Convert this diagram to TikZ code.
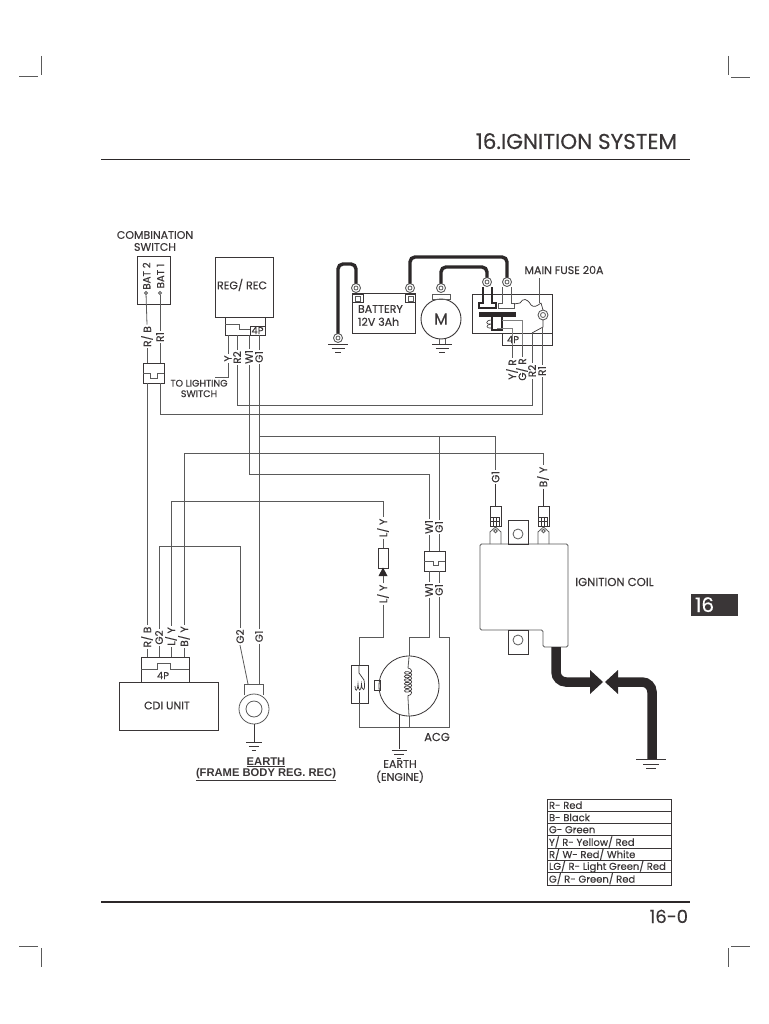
\documentclass[tikz,border=0pt]{standalone}
\usepackage{fontspec}
\setmainfont{Poppins}[FakeBold=0.3]
\usetikzlibrary{decorations.pathmorphing}
\definecolor{ink}{HTML}{3A3637}
\definecolor{wirec}{HTML}{5A5A5A}
\definecolor{heavy}{HTML}{2C2829}
\newcommand\fs[1]{\fontsize{#1}{#1}\selectfont}
\tikzset{
  txt/.style={inner sep=0pt,outer sep=0pt,text=ink,font=\fs{11},align=center},
  vl/.style={txt,rotate=90,inner sep=1.5pt,font=\fs{10.5}},
  arial/.style={inner sep=0pt,text=ink,font={\fontspec{Liberation Sans}\bfseries\fs{11.2}}},
  wire/.style={draw=wirec,line width=.8pt},
  dark/.style={draw=ink,line width=.9pt},
  boxs/.style={draw=ink,line width=.9pt,inner sep=0pt,outer sep=0pt,rectangle},
  lboxs/.style={draw=wirec,line width=.8pt,inner sep=0pt,outer sep=0pt,rectangle},
  heavywire/.style={draw=heavy,line width=3.4pt,rounded corners=5pt},
  hvcable/.style={draw=heavy,line width=9.5pt},
  lugs/.style={circle,draw=wirec,line width=.9pt,minimum size=9pt,inner sep=0pt,outer sep=0pt},
  holes/.style={circle,draw=wirec,line width=.8pt,inner sep=0pt,outer sep=0pt},
  marks/.style={draw=wirec,line width=1pt},
  coilw/.style={draw=ink,line width=.7pt,decorate,decoration={coil,aspect=.6,amplitude=3.6pt,segment length=3.6pt}}
}
\newcommand\bx[6][boxs]{\node[#1,minimum width={(#5-#3)*1pt},minimum height={(#6-#4)*1pt}] (#2) at ({(#3+#5)/2},{(#4+#6)/2}) {};}
\newcommand\gnd[3]{\draw[dark] ({#1-#3},#2) -- ({#1+#3},#2) ({#1-#3*.65},{#2+4}) -- ({#1+#3*.65},{#2+4}) ({#1-#3*.3},{#2+8}) -- ({#1+#3*.3},{#2+8});}
\newcommand\lug[3]{\node[lugs] (#1) at (#2,#3) {}; \node[holes,minimum size=4pt] at (#1) {};}
\begin{document}
\begin{tikzpicture}[x=1pt,y=-1pt]
\useasboundingbox (0,0) rectangle (768,1024);
\fill[white] (0,0) rectangle (768,1024);
% crop marks
\coordinate (tl1) at (19,77); \coordinate (tl2) at (38,77); \coordinate (tl3) at (41,56); \coordinate (tl4) at (41,75);
\draw[marks] (tl1) -- (tl2) (tl3) -- (tl4);
\coordinate (tr1) at (731,78); \coordinate (tr2) at (750,78); \coordinate (tr3) at (728,56); \coordinate (tr4) at (728,75);
\draw[marks] (tr1) -- (tr2) (tr3) -- (tr4);
\coordinate (bl1) at (19,946); \coordinate (bl2) at (38,946); \coordinate (bl3) at (41,948); \coordinate (bl4) at (41,967);
\draw[marks] (bl1) -- (bl2) (bl3) -- (bl4);
\coordinate (br1) at (731,946); \coordinate (br2) at (750,946); \coordinate (br3) at (728,948); \coordinate (br4) at (728,967);
\draw[marks] (br1) -- (br2) (br3) -- (br4);
% header / footer
\node[txt,anchor=base east,font=\fs{21.5}] (title) at (677,149) {16.IGNITION SYSTEM};
\coordinate (ruleTa) at (101,159.5); \coordinate (ruleTb) at (690,159.5);
\draw[draw=heavy,line width=1.8pt] (ruleTa) -- (ruleTb);
\coordinate (ruleBa) at (101,902); \coordinate (ruleBb) at (690,902);
\draw[draw=heavy,line width=1.8pt] (ruleBa) -- (ruleBb);
\node[txt,anchor=base east,font=\fs{18}] (pageno) at (688,923) {16-0};
\fill[ink] (691,594) rectangle (738,616);
\node[txt,anchor=base west,text=white,font=\fs{20}] (tab) at (695,612) {16};
% combination switch
\node[txt] (tCS) at (155,241) {COMBINATION\\[1pt]SWITCH};
\bx{sw}{137}{256}{170}{304}
\node[txt,rotate=90,font=\fs{10.2}] (tB2) at (146.5,276) {BAT 2};
\node[txt,rotate=90,font=\fs{10.2}] (tB1) at (160.5,276) {BAT 1};
\node[holes,minimum size=3pt] (p2) at (146,293) {};
\node[holes,minimum size=3pt] (p1) at (160,293) {};
\node[vl] (lRBa) at (147,336.5) {R/ B};
\node[vl] (lR1a) at (160,337) {R1};
\bx{cn1}{143}{363}{164}{383}
\coordinate (n1a) at (143,373); \coordinate (n1b) at (150,373); \coordinate (n1c) at (150,378); \coordinate (n1d) at (157,378); \coordinate (n1e) at (157,373); \coordinate (n1f) at (164,373);
\draw[wire] (n1a) -- (n1b) -- (n1c) -- (n1d) -- (n1e) -- (n1f);
% reg/rec
\bx{reg}{215}{257}{273}{317}
\node[txt] (tReg) at (242,285) {REG/ REC};
\bx{regc}{225}{317}{265}{335}
\bx{reg4}{250}{326}{265}{335}
\node[txt,font=\fs{10}] (t4a) at (257.5,330.5) {4P};
\coordinate (n2a) at (225,324); \coordinate (n2b) at (239,324); \coordinate (n2c) at (239,329); \coordinate (n2d) at (250,329);
\draw[wire] (n2a) -- (n2b) -- (n2c) -- (n2d);
\node[vl] (lY) at (228,358.5) {Y};
\node[vl] (lR2a) at (237,357.5) {R2};
\node[vl] (lW1a) at (249,357) {W1};
\node[vl] (lG1a) at (259,357) {G1};
\draw[wire] (lY.east |- regc.south) -- (lY.east);
\draw[wire] (lR2a.east |- regc.south) -- (lR2a.east);
\draw[wire] (lW1a.east |- regc.south) -- (lW1a.east);
\draw[wire] (lG1a.east |- regc.south) -- (lG1a.east);
\coordinate (lsw) at (215,377);
\draw[wire] (lY.west) |- (lsw);
\node[txt,font=\fs{9.5}] (tLS) at (199,388.5) {TO LIGHTING\\[1pt]SWITCH};
% battery, motor
\bx{bat}{352}{293}{415}{333}
\bx{bt1}{352}{294}{363}{302}
\bx{bt2}{405}{294}{415}{302}
\bx[lboxs]{bt1i}{355}{296}{360}{301}
\bx[lboxs]{bt2i}{408}{296}{413}{301}
\node[txt,anchor=west,align=left] (tBat) at (358,315.5) {BATTERY\\[2pt]12V 3Ah};
\lug{lBN}{356}{288}
\lug{lBP}{410}{288}
\lug{lG}{338}{338}
\gnd{338}{344}{10}
\node[circle,draw=ink,line width=.9pt,minimum size=40pt,inner sep=0pt,outer sep=0pt] (mot) at (441,319) {};
\node[txt,font=\fs{16}] (tM) at (441,319) {M};
\bx[lboxs]{mb}{432}{294}{450}{299}
\lug{lM}{441}{288}
\coordinate (ml1) at (439,339); \coordinate (ml2) at (439,344); \coordinate (mr1) at (445,339); \coordinate (mr2) at (445,344);
\draw[wire] (ml1) -- (ml2) (mr1) -- (mr2);
\gnd{442}{344}{10}
% main fuse
\bx{fb}{472}{294}{552}{333}
\bx{fc}{502}{333}{552}{345}
\node[txt,font=\fs{10}] (t4c) at (513,339.5) {4P};
\node[txt,font=\fs{11}] (tMF) at (564,270) {MAIN FUSE 20A};
\lug{lF1}{487}{282}
\lug{lF2}{507}{282}
\coordinate (jbat) at (356,264); \coordinate (jgnd) at (338,264);
\draw[heavywire] (lBN.north) -- (jbat) -- (jgnd) -- (lG.north);
\coordinate (jp1) at (410,257); \coordinate (jp2) at (507,257);
\draw[heavywire] (lBP.north) -- (jp1) -- (jp2) -- (lF2.north);
\coordinate (jm1) at (441,267); \coordinate (jm2) at (487,267);
\draw[heavywire] (lM.north) -- (jm1) -- (jm2) -- (lF1.north);
\coordinate (f1a) at (483,287); \coordinate (f1b) at (483,303); \coordinate (f1c) at (479,303); \coordinate (f1d) at (479,308); \coordinate (f1e) at (496,308); \coordinate (f1f) at (496,303); \coordinate (f1g) at (492,303); \coordinate (f1h) at (492,287);
\draw[draw=heavy,line width=1.3pt] (f1a) -- (f1b) -- (f1c) -- (f1d) -- (f1e) -- (f1f) -- (f1g) -- (f1h);
\coordinate (f2a) at (502,287); \coordinate (f2b) at (502,303); \coordinate (f2c) at (498,303); \coordinate (f2d) at (498,308); \coordinate (f2e) at (514,308); \coordinate (f2f) at (514,303); \coordinate (f2g) at (511,303); \coordinate (f2h) at (511,287);
\draw[draw=wirec,line width=.9pt] (f2a) -- (f2b) -- (f2c) -- (f2d) -- (f2e) -- (f2f) -- (f2g) -- (f2h);
\fill[heavy] (479,312) rectangle (516,317);
\coordinate (st1) at (492,317); \coordinate (st2) at (492,330); \coordinate (st3) at (502,330); \coordinate (st4) at (502,317);
\draw[draw=heavy,line width=1.1pt] (st1) -- (st2) -- (st3) -- (st4);
\coordinate (cu1) at (492,320); \coordinate (cu2) at (492,328);
\draw[dark,line width=.6pt] (cu1) .. controls (485,320) and (485,325) .. (491,324) .. controls (485,325) and (486,329) .. (cu2);
\coordinate (sq0) at (514,304); \coordinate (sq1) at (520,303); \coordinate (sq2) at (531,305); \coordinate (sq3) at (541,303);
\draw[dark,line width=.7pt] (sq0) -- (sq1) .. controls (523,298) and (527,298) .. (sq2) .. controls (534,308) and (537,306) .. (sq3);
\node[lugs,minimum size=10pt] (fl) at (543,315) {};
\node[holes,minimum size=5pt] at (fl) {};
\coordinate (ldr) at (539,278); \coordinate (ldr2) at (539,303);
\draw[wire] (ldr) -- (ldr2);
\draw[dark,line width=.7pt] (sq3) -- (fl.north);
\coordinate (fd1) at (543,327); \coordinate (fd2) at (532,333);
\draw[dark,line width=.7pt] (fl.south) -- (fd1) -- (fd2);
\coordinate (g1) at (502,320); \coordinate (g2) at (522,320); \coordinate (g3) at (522,345);
\draw[wire,draw=gray] (g1) -- (g2) -- (g3);
\coordinate (g4) at (497,328); \coordinate (g5) at (512,328); \coordinate (g10) at (512,345);
\draw[wire,draw=gray] (g4) -- (g5) -- (g10);
\node[vl] (lYR) at (512,369.5) {Y/ R};
\node[vl] (lGR) at (522,369.5) {G/ R};
\node[vl] (lR2b) at (532,371) {R2};
\node[vl] (lR1b) at (542,371) {R1};
\draw[wire] (lYR.east |- fc.south) -- (lYR.east);
\draw[wire] (lGR.east |- fc.south) -- (lGR.east);
\draw[wire] (lR2b.east |- fb.south) -- (lR2b.east);
\draw[wire] (lR1b.east |- fd1) -- (lR1b.east);
% wiring
\draw[wire] (p2) -- (lRBa.east);
\draw[wire] (p1) -- (lR1a.east);
\draw[wire] (lRBa.west) -- (lRBa.west |- cn1.north);
\draw[wire] (lR1a.west) -- (lR1a.west |- cn1.north);
\coordinate (y414) at (0,414); \coordinate (y405) at (0,405); \coordinate (y436) at (0,436); \coordinate (y453) at (0,453); \coordinate (y474) at (0,474); \coordinate (y501) at (0,501); \coordinate (y546) at (0,546);
\draw[wire] (lR1a.west |- cn1.south) -- (lR1a.west |- y414) -- (lR1b.west |- y414) -- (lR1b.west);
\draw[wire] (lR2a.west) -- (lR2a.west |- y405) -- (lR2b.west |- y405) -- (lR2b.west);
% cdi
\node[vl] (lRBb) at (147,637) {R/ B};
\node[vl] (lG2a) at (159,637.5) {G2};
\node[vl] (lLYa) at (171,636.5) {L/ Y};
\node[vl] (lBYa) at (184,636.5) {B/ Y};
\bx{cdc}{141}{657}{189}{682}
\bx{cdi}{119}{682}{218}{730}
\node[txt] (tCDI) at (167,705.5) {CDI UNIT};
\node[txt,font=\fs{10}] (t4b) at (163,675.5) {4P};
\coordinate (n3a) at (141,669); \coordinate (n3b) at (157,669); \coordinate (n3c) at (157,663); \coordinate (n3d) at (170,663); \coordinate (n3e) at (170,669); \coordinate (n3f) at (189,669);
\draw[wire] (n3a) -- (n3b) -- (n3c) -- (n3d) -- (n3e) -- (n3f);
\draw[wire] (lRBb.west) -- (lRBb.west |- cdc.north);
\draw[wire] (lG2a.west) -- (lG2a.west |- cdc.north);
\draw[wire] (lLYa.west) -- (lLYa.west |- cdc.north);
\draw[wire] (lBYa.west) -- (lBYa.west |- cdc.north);
\draw[wire] (lRBa.west |- cn1.south) -- (lRBb.east);
% earth lug
\node[vl] (lG2b) at (240,636.5) {G2};
\node[vl] (lG1b) at (259,636.5) {G1};
\coordinate (e1) at (244,695); \coordinate (e2) at (244,684); \coordinate (e3) at (263,684); \coordinate (e4) at (263,695);
\draw[wire] (e1) -- (e2) -- (e3) -- (e4);
\node[circle,draw=wirec,line width=.8pt,minimum size=30pt,inner sep=0pt,outer sep=0pt,fill=white] (eo) at (254,709) {};
\node[holes,minimum size=16pt] (ei) at (254,709) {};
\coordinate (e5) at (248,684);
\draw[wire] (lG2b.west) -- (e5);
\draw[wire] (lG1b.west) -- (lG1b.west |- e3);
\coordinate (e6) at (254,742);
\draw[dark] (eo.south) -- (e6);
\gnd{254}{742}{8}
\node[arial] (tE1) at (266,762) {EARTH};
\node[arial] (tE2) at (266,774) {(FRAME BODY REG. REC)};
\draw[draw=ink,line width=.7pt] ([yshift=-.5pt]tE1.south west) -- ([yshift=-.5pt]tE1.south east);
\draw[draw=ink,line width=.7pt] ([yshift=-.5pt]tE2.south west) -- ([yshift=-.5pt]tE2.south east);
% long runs
\node[vl] (lW1b) at (429,527) {W1};
\node[vl] (lG1c) at (439,527) {G1};
\node[vl] (lG1d) at (495.5,477) {G1};
\node[vl] (lBYb) at (543,477) {B/ Y};
\draw[wire] (lW1a.west) -- (lW1a.west |- y474) -- (lW1b.east |- y474) -- (lW1b.east);
\draw[wire] (lG1a.west) -- (lG1b.east);
\draw[wire] (lG1a.west |- y436) -- (lG1d.east |- y436) -- (lG1d.east);
\draw[wire] (lG1c.east |- y436) -- (lG1c.east);
\draw[wire] (lBYa.east) -- (lBYa.east |- y453) -- (lBYb.east |- y453) -- (lBYb.east);
\node[vl] (lLYb) at (383,528) {L/ Y};
\node[vl] (lLYc) at (383,594) {L/ Y};
\draw[wire] (lLYa.east) -- (lLYa.east |- y501) -- (lLYb.east |- y501) -- (lLYb.east);
\draw[wire] (lG2a.east) -- (lG2a.east |- y546) -- (lG2b.east |- y546) -- (lG2b.east);
% L/Y connector
\bx{cy}{378}{548}{388}{568}
\draw[wire] (lLYb.west) -- (lLYb.west |- cy.north);
\node[draw=none,inner sep=0pt,minimum size=8pt] (triA) at (383,572) {};
\fill[heavy] (383,567.5) -- (387.5,576) -- (378.5,576) -- cycle;
\draw[wire] (lLYc.east) -- (lLYc.east |- triA.south);
% W/G connector
\bx{cw}{424}{551}{445}{571}
\coordinate (n4a) at (424,561); \coordinate (n4b) at (433,561); \coordinate (n4c) at (433,565); \coordinate (n4d) at (438,565); \coordinate (n4e) at (438,561); \coordinate (n4f) at (445,561);
\draw[wire] (n4a) -- (n4b) -- (n4c) -- (n4d) -- (n4e) -- (n4f);
\node[vl] (lW1c) at (429,590) {W1};
\node[vl] (lG1e) at (439,590) {G1};
\draw[wire] (lW1b.west) -- (lW1b.west |- cw.north);
\draw[wire] (lG1c.west) -- (lG1c.west |- cw.north);
\draw[wire] (lW1c.east) -- (lW1c.east |- cw.south);
\draw[wire] (lG1e.east) -- (lG1e.east |- cw.south);
% ACG
\coordinate (a1) at (359,637); \coordinate (a2) at (409,637); \coordinate (a3) at (449,637); \coordinate (a4) at (359,727); \coordinate (a5) at (449,727); \coordinate (a6) at (409,727);
\bx{acr}{351}{665}{368}{703}
\draw[wire] (lLYc.west) -- (lLYc.west |- a1) -- (a1) -- (a1 |- acr.north);
\draw[wire] (a1 |- acr.south) -- (a4) -- (a5) -- (a3) -- (lG1e.west |- a3) -- (lG1e.west);
\draw[wire] (lW1c.west) -- (lW1c.west |- a2) -- (a2) -- (a6);
\node[circle,draw=ink,line width=.8pt,minimum size=60pt,inner sep=0pt,outer sep=0pt,fill=white] (acg) at (409,686) {};
\coordinate (c1) at (408,668); \coordinate (c2) at (408,698);
\coordinate (c1t) at (409,657); \coordinate (c2b) at (409,716);
\draw[wire] (c1t) -- (c1);
\draw[wire] (c2) -- (c2b);
\draw[coilw] (c1) -- (c2);
\coordinate (rc0) at (359,665); \coordinate (rc1) at (359,673); \coordinate (rc2) at (364,680); \coordinate (rc3) at (361.5,684); \coordinate (rc4) at (358,684); \coordinate (rc5) at (355,686); \coordinate (rc6) at (359,692); \coordinate (rc7) at (359,703);
\draw[dark,line width=.7pt] (rc0) -- (rc1) -- (rc2) .. controls (366,692) and (362,692) .. (rc3) .. controls (361,692) and (358.5,692) .. (rc4) .. controls (357.5,692) and (355,692) .. (rc5);
\draw[dark,line width=.7pt] (rc6) -- (rc7);
\bx{act}{374}{680}{380}{690}
\coordinate (ag) at (399,749);
\coordinate (at) at (399,713.5);
\draw[dark] (at) -- (ag);
\gnd{399}{750}{7.5}
\node[txt,font=\fs{11.5}] (tACG) at (437,737) {ACG};
\node[txt] (tEng) at (400,771.5) {EARTH\\[2pt](ENGINE)};
% ignition coil
\coordinate (ic1) at (480,544); \coordinate (ic2) at (568,544); \coordinate (ic3) at (568,647); \coordinate (ic4) at (543,647); \coordinate (ic5) at (543,630); \coordinate (ic6) at (480,630);
\draw[wire,rounded corners=1.5pt] (ic1) -- (ic2) -- (ic3) -- (ic4) -- (ic5) -- (ic6) -- cycle;
\bx{icm1}{508}{520}{528}{544}
\bx{icm2}{508}{630}{528}{654}
\node[holes,minimum size=10pt] (h1) at (518,534) {};
\node[holes,minimum size=10pt] (h2) at (518,640) {};
\bx{tcA}{490}{506}{501}{526}
\bx{tcB}{538}{506}{549}{526}
\coordinate (tA1) at (490,544); \coordinate (tA2) at (490,532); \coordinate (tA3) at (495.5,527); \coordinate (tA4) at (501,532); \coordinate (tA5) at (501,544);
\draw[wire] (tA1) -- (tA2) -- (tA3) -- (tA4) -- (tA5);
\coordinate (tB1c) at (538,544); \coordinate (tB2c) at (538,532); \coordinate (tB3c) at (543.5,527); \coordinate (tB4c) at (549,532); \coordinate (tB5c) at (549,544);
\draw[wire] (tB1c) -- (tB2c) -- (tB3c) -- (tB4c) -- (tB5c);
\node[holes,minimum size=3.4pt] at (495.5,531) {};
\node[holes,minimum size=3.4pt] at (543.5,531) {};
\draw[dark,line width=.7pt] (493,517) -- (493,526) (496,517) -- (496,526) (499,517) -- (499,526) (491,517) -- (500,517) (491,521) -- (500,521);
\draw[dark,line width=.7pt] (541,517) -- (541,526) (544,517) -- (544,526) (547,517) -- (547,526) (539,517) -- (548,517) (539,521) -- (548,521);
\draw[dark] (lG1d.west) -- (lG1d.west |- tcA.north);
\draw[dark] (lBYb.west) -- (lBYb.west |- tcB.north);
\node[txt,font=\fs{11.6}] (tIC) at (614.5,582) {IGNITION COIL};
% high tension lead
\coordinate (hA) at (556,647); \coordinate (hB) at (556,682); \coordinate (hC) at (591,682);
\coordinate (hD) at (618,682); \coordinate (hE) at (652,682); \coordinate (hF) at (652,759);
\draw[hvcable,rounded corners=10pt] (hA) -- (hB) -- (hC);
\draw[hvcable,rounded corners=10pt] (hD) -- (hE) -- (hF);
\fill[heavy] (590,670) -- (603,682) -- (590,694) -- cycle;
\fill[heavy] (618,670) -- (605,682) -- (618,694) -- cycle;
\coordinate (gh1) at (636,759); \coordinate (gh2) at (666,759); \coordinate (gh3) at (643,764); \coordinate (gh4) at (659,764); \coordinate (gh5) at (646,768); \coordinate (gh6) at (656,768);
\draw[dark] (gh1) -- (gh2) (gh3) -- (gh4) (gh5) -- (gh6);
% legend
\bx{leg}{547}{799}{671}{885}
\foreach \yy in {811.3,823.6,835.9,848.1,860.4,872.7} { \draw[boxs] (leg.west |- 0,\yy) -- (leg.east |- 0,\yy); }
\node[txt,anchor=west,font=\fs{10}] (k1) at (549,805.2) {R- Red};
\node[txt,anchor=west,font=\fs{10}] (k2) at (549,817.5) {B- Black};
\node[txt,anchor=west,font=\fs{10}] (k3) at (549,829.7) {G- Green};
\node[txt,anchor=west,font=\fs{10}] (k4) at (549,842) {Y/ R- Yellow/ Red};
\node[txt,anchor=west,font=\fs{10}] (k5) at (549,854.2) {R/ W- Red/ White};
\node[txt,anchor=west,font=\fs{10}] (k6) at (549,866.5) {LG/ R- Light Green/ Red};
\node[txt,anchor=west,font=\fs{10}] (k7) at (549,878.8) {G/ R- Green/ Red};
\end{tikzpicture}
\end{document}
